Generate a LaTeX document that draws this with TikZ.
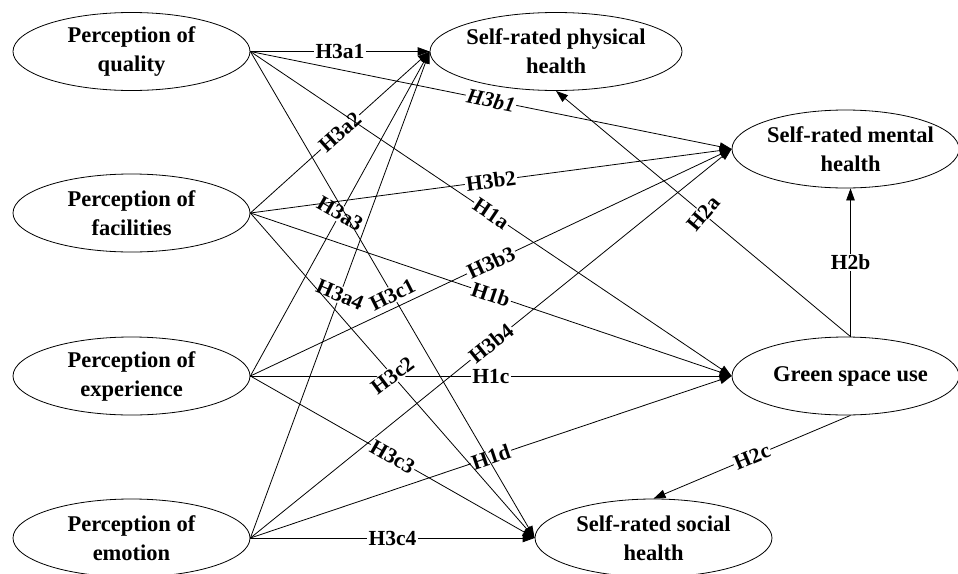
\documentclass[tikz,border=0pt]{standalone}
\usepackage{fontspec}
\setmainfont{Liberation Serif}
\usetikzlibrary{shapes.geometric,arrows.meta}
\begin{document}
\begin{tikzpicture}[x=1pt,y=-1pt,
  el/.style={ellipse,draw,line width=0.8pt,inner sep=0pt,minimum height=78pt},
  txt/.style={align=center,font=\fontsize{22.5}{29}\selectfont\bfseries,inner sep=0pt},
  arr/.style={line width=0.8pt,-{Triangle[length=12pt,width=8.5pt]}},
  lab/.style={fill=white,inner sep=1.2pt,font=\fontsize{21.5}{24}\selectfont\bfseries,midway}]
\useasboundingbox (0,0) rectangle (958,573);
% left ellipses
\node[el,minimum width=237pt] (qual) at (131.5,51.5) {};
\node[txt] at (qual) {Perception of\\quality};
\node[el,minimum width=237pt] (faci) at (131.5,213) {};
\node[txt] at (faci) {Perception of\\facilities};
\node[el,minimum width=237pt] (expe) at (131.5,376) {};
\node[txt] at (expe) {Perception of\\experience};
\node[el,minimum width=237pt] (emot) at (131.5,538) {};
\node[txt] at (emot) {Perception of\\emotion};
% right ellipses
\node[el,minimum width=252pt] (phys) at (556,51.5) {};
\node[txt] at (phys) {Self-rated physical\\health};
\node[el,minimum width=227pt] (ment) at (845.5,149) {};
\node[txt] at ([xshift=5pt]ment.center) {Self-rated mental\\health};
\node[el,minimum width=227pt] (gree) at (845.5,376) {};
\node[txt] at ([xshift=5pt]gree.center) {Green space use};
\node[el,minimum width=237pt] (soci) at (653.5,538) {};
\node[txt] at (soci) {Self-rated social\\health};
% to physical
\draw[arr] (qual.east) -- node[lab] {H3a1} (phys.west);
\draw[arr] (faci.east) -- node[lab,sloped] {H3a2} (phys.west);
\draw[arr] (expe.east) -- node[lab,rotate=-30] {H3a3} (phys.west);
\draw[arr] (emot.east) -- node[lab,rotate=-23] {H3a4} (phys.west);
% to mental
\draw[arr] (qual.east) -- node[lab,sloped,font=\fontsize{21.5}{24}\selectfont\bfseries\itshape] {H3b1} (ment.west);
\draw[arr] (faci.east) -- node[lab,sloped] {H3b2} (ment.west);
\draw[arr] (expe.east) -- node[lab,sloped] {H3b3} (ment.west);
\draw[arr] (emot.east) -- node[lab,sloped] {H3b4} (ment.west);
% to green
\draw[arr] (qual.east) -- node[lab,sloped] {H1a} (gree.west);
\draw[arr] (faci.east) -- node[lab,sloped] {H1b} (gree.west);
\draw[arr] (expe.east) -- node[lab] {H1c} (gree.west);
\draw[arr] (emot.east) -- node[lab,sloped] {H1d} (gree.west);
% to social
\draw[arr] (qual.east) -- node[lab,rotate=27] {H3c1} (soci.west);
\draw[arr] (faci.east) -- node[lab,rotate=37] {H3c2} (soci.west);
\draw[arr] (expe.east) -- node[lab,sloped] {H3c3} (soci.west);
\draw[arr] (emot.east) -- node[lab] {H3c4} (soci.west);
% green space use paths
\draw[arr] ([xshift=5pt]gree.north) -- node[lab,rotate=50] {H2a} (phys.south);
\draw[arr] ([xshift=5pt]gree.north) -- node[lab] {H2b} ([xshift=5pt]ment.south);
\draw[arr] ([xshift=5pt]gree.south) -- node[lab,sloped] {H2c} (soci.north);
\end{tikzpicture}
\end{document}
